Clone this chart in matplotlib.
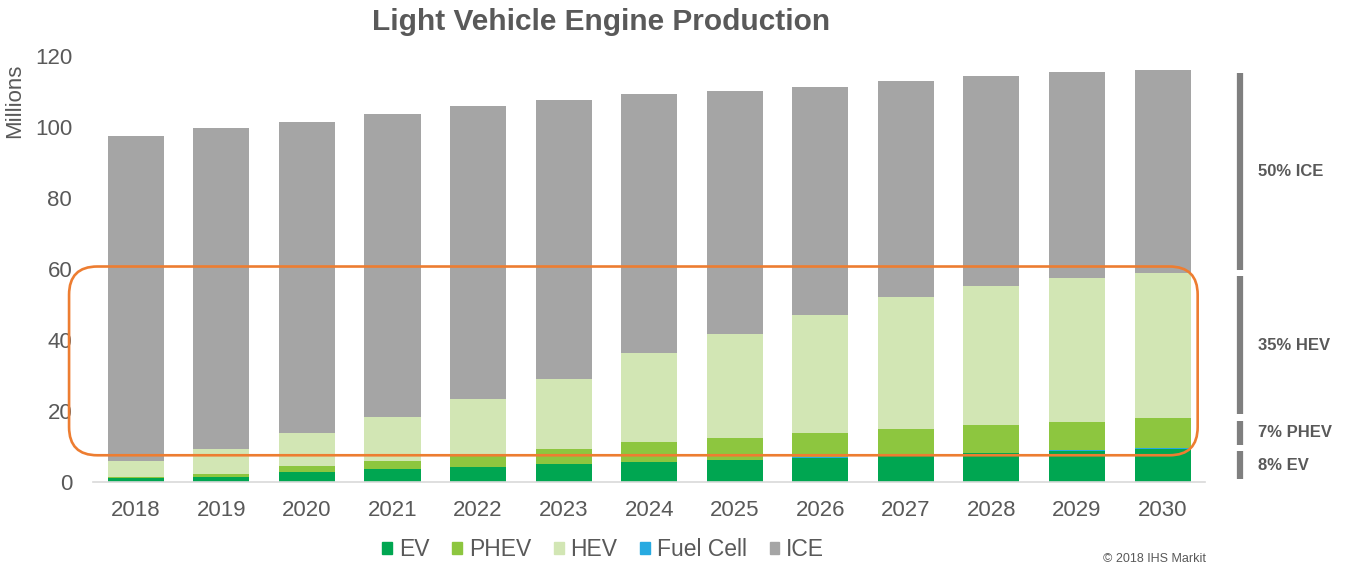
import numpy as np
import matplotlib
matplotlib.use("Agg")
import matplotlib.pyplot as plt
from matplotlib.patches import FancyBboxPatch, Patch

plt.rcParams['font.family'] = ['Liberation Sans', 'DejaVu Sans']

years = ['2018', '2019', '2020', '2021', '2022', '2023', '2024',
         '2025', '2026', '2027', '2028', '2029', '2030']
# millions of engines
ev = [1.1, 1.5, 2.9, 3.6, 4.3, 5.1, 5.6, 6.2, 6.9, 7.5, 8.1, 8.9, 9.5]
fuel_cell = [0.0, 0.0, 0.0, 0.0, 0.0, 0.1, 0.1, 0.1, 0.1, 0.1, 0.1, 0.2, 0.2]
phev = [0.3, 0.9, 1.8, 2.5, 3.6, 4.3, 5.5, 6.1, 6.8, 7.5, 8.0, 7.9, 8.5]
hev = [4.5, 6.9, 9.1, 12.2, 15.5, 19.5, 25.1, 29.3, 33.2, 37.0, 39.0, 40.5, 40.7]
ice = [91.6, 90.4, 87.6, 85.6, 82.5, 78.6, 73.0, 68.7, 64.3, 61.1, 59.2, 58.0, 57.4]

share_labels = ['8% EV', '7% PHEV', '35% HEV', '50% ICE']

c_ev = '#00A651'
c_phev = '#8DC63F'
c_hev = '#D2E6B4'
c_fc = '#27AAE1'
c_ice = '#A5A5A5'
txt = '#595959'

fig = plt.figure(figsize=(13.62, 5.68), dpi=100)
ax = fig.add_axes([0.0683, 0.151, 0.8167, 0.7496])

x = np.arange(len(years))
w = 0.655
series = [(ev, c_ev), (fuel_cell, c_fc), (phev, c_phev), (hev, c_hev), (ice, c_ice)]
bottom = np.zeros(len(years))
for vals, col in series:
    ax.bar(x, vals, w, bottom=bottom, color=col, linewidth=0)
    bottom += np.array(vals)

ax.set_xlim(-0.5, len(years) - 0.5)
ax.set_ylim(0, 120)
ax.set_yticks(range(0, 121, 20))
ax.set_xticks(x)
ax.set_xticklabels(years)
ax.tick_params(length=0, labelsize=16, colors=txt)
ax.tick_params(axis='y', pad=15)
ax.tick_params(axis='x', pad=13)
for s in ['top', 'right', 'left']:
    ax.spines[s].set_visible(False)
ax.spines['bottom'].set_color('#D9D9D9')
ax.spines['bottom'].set_linewidth(1.2)

fig.text(0.441, 0.961, 'Light Vehicle Engine Production', fontsize=21.5,
         fontweight='bold', color=txt, ha='center', va='center')
fig.text(0.011, 0.823, 'Millions', rotation=90, fontsize=16, color=txt,
         ha='center', va='center')

# share brackets on the right, from the 2030 stack
last = [ev[-1] + fuel_cell[-1], phev[-1], hev[-1], ice[-1]]
lo = 0
for seg, lab in zip(last, share_labels):
    hi = lo + seg
    ax.plot([12.9, 12.9], [lo + 0.9, hi - 0.9], color='#7F7F7F', lw=4.5,
            solid_capstyle='butt', clip_on=False)
    ax.text(13.12, (lo + hi) / 2, lab, fontsize=12, fontweight='bold', color=txt,
            va='center', ha='left', clip_on=False)
    lo = hi

# orange highlight box
box = FancyBboxPatch((-0.78, 7.6), 13.19, 53.2,
                     boxstyle='round,pad=0,rounding_size=0.33',
                     mutation_aspect=24.1, fill=False, edgecolor='#ED7D31',
                     linewidth=1.9, clip_on=False, zorder=5)
ax.add_patch(box)

handles = [Patch(color=c_ev), Patch(color=c_phev), Patch(color=c_hev),
           Patch(color=c_fc), Patch(color=c_ice)]
names = ['EV', 'PHEV', 'HEV', 'Fuel Cell', 'ICE']
leg = fig.legend(handles, names, loc='center', bbox_to_anchor=(0.443, 0.032), ncol=5,
                 frameon=False, fontsize=16.5, handlelength=0.42, handleheight=0.42,
                 handletextpad=0.3, columnspacing=1.0)
for t in leg.get_texts():
    t.set_color(txt)

fig.text(0.848, 0.011, '© 2018 IHS Markit', fontsize=9, color=txt, ha='center')

fig.savefig('out.png', dpi=100, facecolor='white')
